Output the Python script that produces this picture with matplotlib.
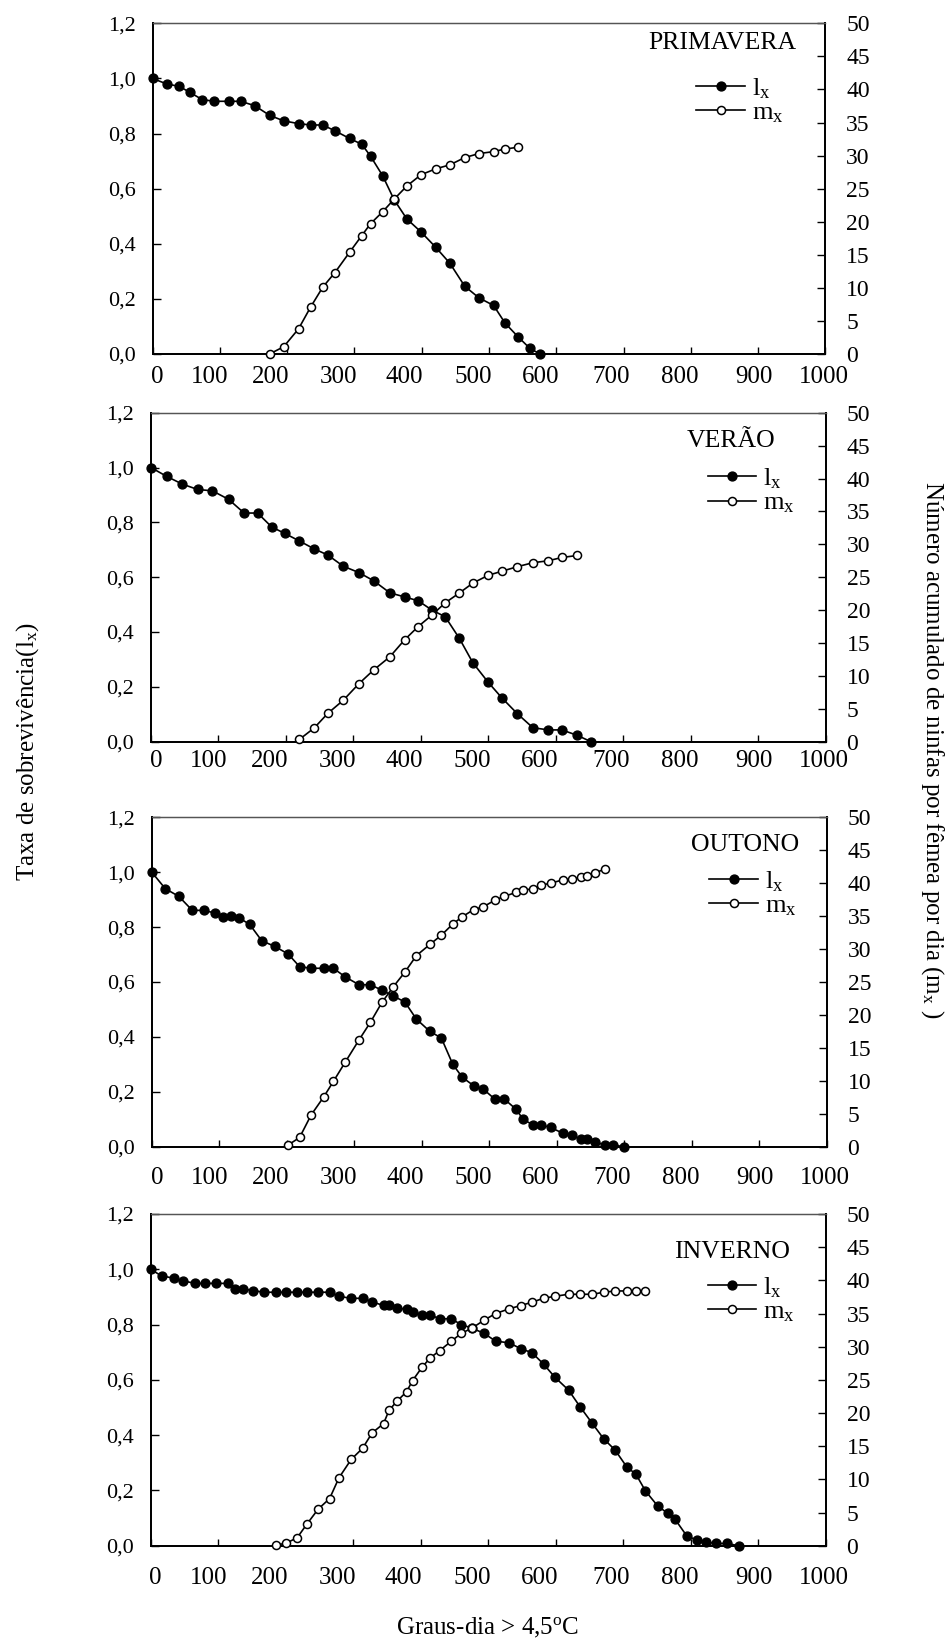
import matplotlib
matplotlib.use('Agg')
import matplotlib.pyplot as plt
from matplotlib.transforms import ScaledTranslation

plt.rcParams['font.family'] = ['Liberation Serif', 'DejaVu Serif']
plt.rcParams['mathtext.fontset'] = 'custom'
plt.rcParams['mathtext.rm'] = 'Liberation Serif'
plt.rcParams['mathtext.it'] = 'Liberation Serif:italic'

# ---- data (graus-dia, l_x and cumulative m_x) ----
# PRIMAVERA
prim_x = [0, 21, 40, 55, 74, 92, 113, 131, 152, 174, 195, 217, 235, 253, 271, 293,
          311, 324, 342, 359, 378, 399, 421, 442, 464, 485, 507, 524, 543, 561, 576]
prim_lx = [1.0, 0.98, 0.971, 0.95, 0.923, 0.917, 0.917, 0.917, 0.901, 0.866, 0.846,
           0.836, 0.831, 0.831, 0.81, 0.782, 0.761, 0.718, 0.647, 0.56, 0.49, 0.443,
           0.387, 0.329, 0.246, 0.204, 0.176, 0.112, 0.063, 0.02, 0.0]
prim_mx_x = [174, 195, 217, 235, 253, 271, 293, 311, 324, 342, 359, 378, 399, 421,
             442, 464, 485, 507, 524, 543]
prim_mx = [0, 1.1, 3.8, 7.1, 10.1, 12.3, 15.4, 17.9, 19.7, 21.5, 23.4, 25.4, 27.1,
           28.0, 28.6, 29.7, 30.3, 30.6, 31.0, 31.25]

# VERÃO
ver_x = [0, 23, 46, 69, 91, 115, 138, 158, 179, 198, 220, 242, 262, 285, 308, 330,
         354, 376, 396, 417, 436, 457, 477, 500, 520, 543, 566, 589, 609, 632, 652]
ver_lx = [1.0, 0.968, 0.94, 0.92, 0.915, 0.884, 0.834, 0.834, 0.783, 0.76, 0.732,
          0.703, 0.681, 0.64, 0.617, 0.587, 0.543, 0.528, 0.514, 0.479, 0.456, 0.377,
          0.288, 0.216, 0.16, 0.102, 0.051, 0.043, 0.043, 0.023, 0.0]
ver_mx_x = [220, 242, 262, 285, 308, 330, 354, 376, 396, 417, 436, 457, 477, 500,
            520, 543, 566, 589, 609, 632]
ver_mx = [0.35, 2.1, 4.3, 6.3, 8.8, 10.9, 12.9, 15.5, 17.5, 19.3, 21.1, 22.6, 24.1,
          25.3, 25.9, 26.6, 27.2, 27.5, 28.0, 28.3]

# OUTONO
out_x = [0, 20, 40, 60, 77, 94, 106, 117, 129, 145, 163, 182, 202, 219, 236, 255,
         269, 287, 307, 324, 341, 358, 375, 392, 412, 429, 446, 460, 477, 491, 508,
         522, 540, 550, 565, 577, 591, 609, 622, 636, 645, 657, 671, 683, 700]
out_lx = [1.0, 0.94, 0.912, 0.861, 0.861, 0.851, 0.838, 0.84, 0.834, 0.81, 0.75, 0.73,
          0.702, 0.656, 0.65, 0.65, 0.65, 0.618, 0.59, 0.59, 0.57, 0.549, 0.527, 0.465,
          0.42, 0.396, 0.3, 0.253, 0.222, 0.21, 0.174, 0.174, 0.136, 0.1, 0.079, 0.079,
          0.07, 0.049, 0.041, 0.028, 0.028, 0.018, 0.006, 0.006, 0.0]
out_mx_x = [202, 219, 236, 255, 269, 287, 307, 324, 341, 358, 375, 392, 412, 429, 446,
            460, 477, 491, 508, 522, 540, 550, 565, 577, 591, 609, 622, 636, 645, 657, 671]
out_mx = [0.25, 1.4, 4.8, 7.6, 9.9, 12.9, 16.2, 18.9, 21.9, 24.3, 26.5, 29.0, 30.7,
          32.1, 33.8, 34.9, 36.0, 36.4, 37.4, 38.0, 38.6, 39.0, 39.1, 39.7, 40.0, 40.5,
          40.6, 40.9, 41.1, 41.6, 42.1]

# INVERNO
inv_x = [0, 16, 34, 48, 66, 80, 97, 114, 125, 137, 151, 168, 185, 200, 217, 231, 248,
         265, 279, 297, 314, 328, 345, 353, 365, 379, 388, 402, 414, 428, 445, 460, 476,
         494, 511, 531, 548, 565, 582, 599, 619, 636, 654, 671, 688, 705, 719, 733, 751,
         766, 777, 794, 809, 822, 837, 854, 871]
inv_lx = [1.0, 0.976, 0.968, 0.958, 0.949, 0.949, 0.949, 0.949, 0.929, 0.929, 0.923,
          0.917, 0.917, 0.917, 0.917, 0.917, 0.917, 0.917, 0.902, 0.895, 0.895, 0.882,
          0.869, 0.869, 0.86, 0.855, 0.847, 0.835, 0.835, 0.821, 0.821, 0.8, 0.787,
          0.768, 0.74, 0.734, 0.713, 0.698, 0.657, 0.609, 0.563, 0.503, 0.443, 0.387,
          0.346, 0.286, 0.258, 0.198, 0.144, 0.117, 0.095, 0.036, 0.02, 0.014, 0.008,
          0.008, 0.0]
inv_mx_x = [185, 200, 217, 231, 248, 265, 279, 297, 314, 328, 345, 353, 365, 379, 388,
            402, 414, 428, 445, 460, 476, 494, 511, 531, 548, 565, 582, 599, 619, 636,
            654, 671, 688, 705, 719, 733]
inv_mx = [0.1, 0.35, 1.2, 3.2, 5.5, 7.1, 10.25, 13.0, 14.7, 17.0, 18.4, 20.4, 21.8,
          23.2, 24.9, 26.9, 28.3, 29.4, 30.8, 32.0, 32.8, 34.0, 35.0, 35.7, 36.2, 36.7,
          37.3, 37.6, 37.9, 37.9, 37.9, 38.2, 38.4, 38.4, 38.4, 38.4]

seasons = ['PRIMAVERA', 'VERÃO', 'OUTONO', 'INVERNO']

# tick labels
x_ticks = list(range(0, 1001, 100))
x_ticklabels = [str(v) for v in x_ticks]
lx_ticks = [0, 0.2, 0.4, 0.6, 0.8, 1.0, 1.2]
lx_ticklabels = ['0,0', '0,2', '0,4', '0,6', '0,8', '1,0', '1,2']
mx_ticks = list(range(0, 51, 5))
mx_ticklabels = [str(v) for v in mx_ticks]

# ---- layout (pixel boxes of each panel: left, top, right, bottom) ----
W, H = 951, 1641
boxes = [(152.5, 23.3, 825.4, 354.0),
         (151.0, 412.7, 825.7, 741.7),
         (151.8, 817.3, 826.7, 1146.7),
         (150.7, 1214.0, 825.7, 1545.7)]
title_pos = [(0.957, 0.940), (0.925, 0.915), (0.959, 0.916), (0.947, 0.885)]
legend_pos = [(0.808, 0.766), (0.825, 0.762), (0.826, 0.768), (0.825, 0.741)]
xlabel_pad = [8.5, 6, 14.5, 15.5]
# the x labels in the original sit a little left of their ticks (pixels)
xlabel_shift = [5, -10, -16, -16, -17, -16, -16, -12, -11, -4, -2]

fig = plt.figure(figsize=(W / 100, H / 100), dpi=100)

data = [(prim_x, prim_lx, prim_mx_x, prim_mx),
        (ver_x, ver_lx, ver_mx_x, ver_mx),
        (out_x, out_lx, out_mx_x, out_mx),
        (inv_x, inv_lx, inv_mx_x, inv_mx)]

for i, (xs, lx, mxx, mx) in enumerate(data):
    l, t, r, b = boxes[i]
    ax = fig.add_axes([l / W, 1 - b / H, (r - l) / W, (b - t) / H])
    ax2 = ax.twinx()

    # survival (left axis) and cumulative nymphs (right axis)
    h1, = ax.plot(xs, lx, color='black', lw=1.2, marker='o', ms=6.4,
                  mfc='black', mec='black', clip_on=False, zorder=3)
    h2, = ax2.plot(mxx, mx, color='black', lw=1.2, marker='o', ms=5.8,
                   mfc='white', mec='black', mew=1.1, clip_on=False, zorder=4)

    ax.set_xlim(0, 1000)
    ax.set_ylim(0, 1.2)
    ax2.set_ylim(0, 50)

    ax.set_xticks(x_ticks)
    ax.set_xticklabels(x_ticklabels, fontsize=18)
    ax.set_yticks(lx_ticks)
    ax.set_yticklabels(lx_ticklabels, fontsize=16)
    ax2.set_yticks(mx_ticks)
    ax2.set_yticklabels(mx_ticklabels, fontsize=17)

    ax.tick_params(axis='x', direction='in', length=5, width=1, pad=xlabel_pad[i])
    ax.tick_params(axis='y', direction='in', length=5.5, width=1, pad=12)
    ax2.tick_params(axis='y', direction='in', length=5.5, width=1, pad=15)

    for lab, dx in zip(ax.get_xticklabels(), xlabel_shift):
        lab.set_transform(lab.get_transform() +
                          ScaledTranslation(dx / 100, 0, fig.dpi_scale_trans))

    for a in (ax, ax2):
        for side in ('left', 'bottom', 'right'):
            a.spines[side].set_linewidth(1.3)
            a.spines[side].set_color('black')
        a.spines['top'].set_linewidth(0.9)
        a.spines['top'].set_color('#555555')

    ax2.text(title_pos[i][0], title_pos[i][1], seasons[i], transform=ax2.transAxes,
             ha='right', va='center', fontsize=18.5)

    ax2.legend([h1, h2], [r'$\mathregular{l_x}$', r'$\mathregular{m_x}$'],
               loc='center left', bbox_to_anchor=legend_pos[i], frameon=False,
               fontsize=19, handlelength=1.85, handletextpad=0.25,
               labelspacing=0.0, borderpad=0, borderaxespad=0)

# axis titles
fig.text(28 / W, 1 - 752 / H, r'Taxa de sobrevivência(l$_{\mathregular{x}}$)',
         rotation=90, ha='center', va='center', fontsize=18)
fig.text(932 / W, 1 - 750 / H,
         r'Número acumulado de ninfas por fêmea por dia (m$_{\mathregular{x}}$ )',
         rotation=270, ha='center', va='center', fontsize=18)
fig.text(488 / W, 1 - 1628 / H, r'Graus-dia > 4,5$^{\mathregular{o}}$C',
         ha='center', va='center', fontsize=18)

fig.savefig('out.png', dpi=100)
